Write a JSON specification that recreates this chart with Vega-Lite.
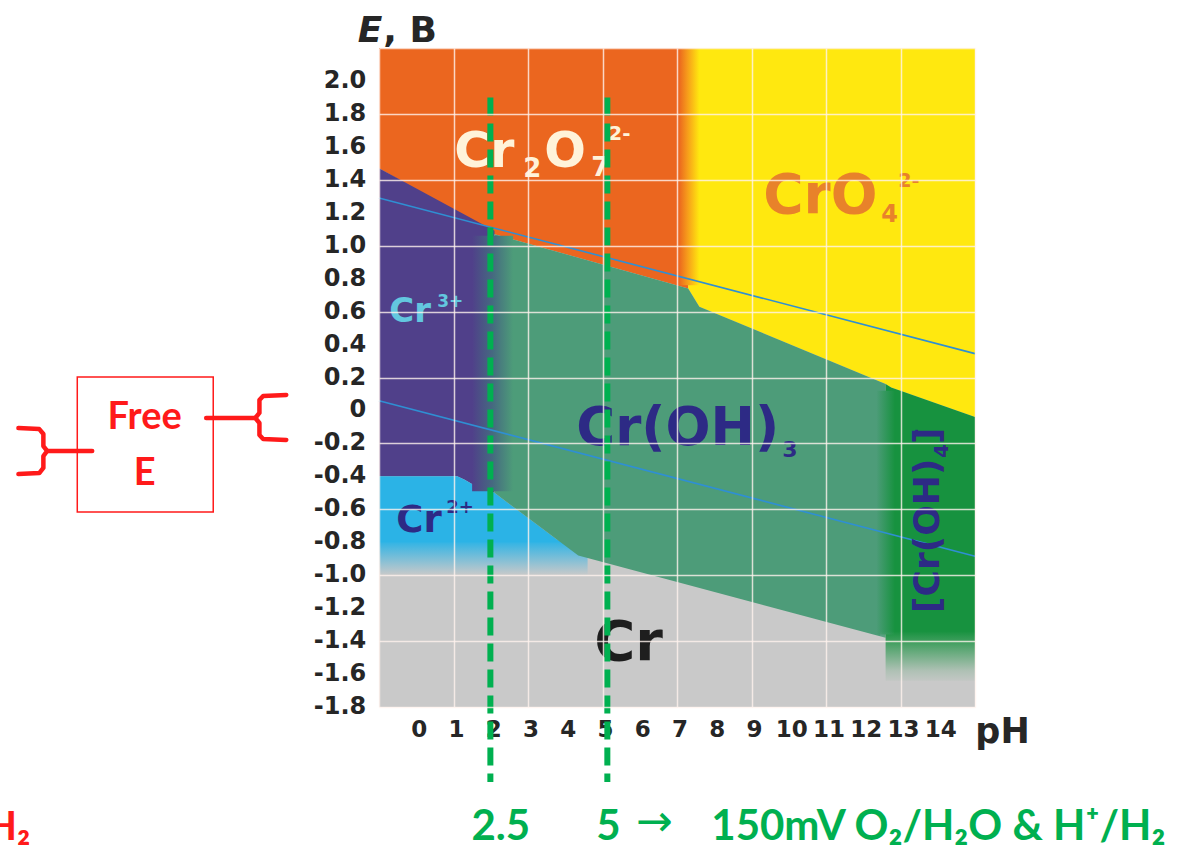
{
  "$schema": "https://vega.github.io/schema/vega-lite/v6.json",
  "width": 596,
  "height": 659,
  "autosize": {"type": "none"},
  "padding": {"left": 379, "top": 48, "right": 212, "bottom": 143},
  "background": "white",
  "config": {"view": {"stroke": null, "fill": "#C9C9C9"}, "axis": {"labelOverlap": false, "labelFlush": false, "labelBound": false}},
  "layer": [
    {
      "data": {"values": [{"pH": -1, "pH2": 4.6, "E": -0.79, "E2": -1.0}]},
      "mark": {"type": "rect", "color": {"gradient": "linear", "x1": 0, "y1": 0, "x2": 0, "y2": 1, "stops": [{"offset": 0, "color": "#2BB3E6"}, {"offset": 1, "color": "#C9C9C9"}]}},
      "encoding": {"x": {"field": "pH", "type": "quantitative"}, "x2": {"field": "pH2"}, "y": {"field": "E", "type": "quantitative"}, "y2": {"field": "E2"}}
    },
    {
      "data": {"values": [
        {"r": "Cr2O7", "o": 1, "pH": -1, "E": 2.2},
        {"r": "Cr2O7", "o": 2, "pH": 7.3, "E": 2.2},
        {"r": "Cr2O7", "o": 3, "pH": 7.3, "E": 0.74},
        {"r": "Cr2O7", "o": 4, "pH": 2.1, "E": 1.07},
        {"r": "Cr2O7", "o": 5, "pH": -1, "E": 1.47},
        {"r": "CrO4", "o": 1, "pH": 7.3, "E": 2.2},
        {"r": "CrO4", "o": 2, "pH": 15, "E": 2.2},
        {"r": "CrO4", "o": 3, "pH": 15, "E": -0.04},
        {"r": "CrO4", "o": 4, "pH": 12.75, "E": 0.14},
        {"r": "CrO4", "o": 5, "pH": 12.6, "E": 0.16},
        {"r": "CrO4", "o": 6, "pH": 7.6, "E": 0.63},
        {"r": "CrO4", "o": 7, "pH": 7.3, "E": 0.74},
        {"r": "Cr3", "o": 1, "pH": -1, "E": 1.47},
        {"r": "Cr3", "o": 2, "pH": 2.1, "E": 1.09},
        {"r": "Cr3", "o": 3, "pH": 2.1, "E": -0.5},
        {"r": "Cr3", "o": 4, "pH": 1.6, "E": -0.46},
        {"r": "Cr3", "o": 5, "pH": 1.3, "E": -0.42},
        {"r": "Cr3", "o": 6, "pH": 1.1, "E": -0.4},
        {"r": "Cr3", "o": 7, "pH": -1, "E": -0.4},
        {"r": "Cr2", "o": 1, "pH": -1, "E": -0.4},
        {"r": "Cr2", "o": 2, "pH": 1.1, "E": -0.4},
        {"r": "Cr2", "o": 3, "pH": 1.3, "E": -0.42},
        {"r": "Cr2", "o": 4, "pH": 1.6, "E": -0.46},
        {"r": "Cr2", "o": 5, "pH": 2.1, "E": -0.5},
        {"r": "Cr2", "o": 6, "pH": 3.876, "E": -0.8},
        {"r": "Cr2", "o": 7, "pH": -1, "E": -0.8},
        {"r": "CrOH3", "o": 1, "pH": 2.1, "E": 1.07},
        {"r": "CrOH3", "o": 2, "pH": 7.3, "E": 0.74},
        {"r": "CrOH3", "o": 3, "pH": 7.6, "E": 0.63},
        {"r": "CrOH3", "o": 4, "pH": 12.6, "E": 0.16},
        {"r": "CrOH3", "o": 5, "pH": 12.6, "E": -1.38},
        {"r": "CrOH3", "o": 6, "pH": 4.35, "E": -0.88},
        {"r": "CrOH3", "o": 7, "pH": 2.1, "E": -0.5},
        {"r": "CrOH4", "o": 1, "pH": 12.6, "E": 0.16},
        {"r": "CrOH4", "o": 2, "pH": 12.75, "E": 0.14},
        {"r": "CrOH4", "o": 3, "pH": 15, "E": -0.04},
        {"r": "CrOH4", "o": 4, "pH": 15, "E": -1.64},
        {"r": "CrOH4", "o": 5, "pH": 12.6, "E": -1.64}
      ]},
      "mark": {"type": "line", "filled": true, "strokeWidth": 0},
      "encoding": {
        "x": {
          "field": "pH", "type": "quantitative",
          "scale": {"domain": [-1, 15], "nice": false, "zero": false},
          "axis": {
            "values": [-1, 0, 1, 2, 3, 4, 5, 6, 7, 8, 9, 10, 11, 12, 13, 14, 15],
            "labels": false,
            "grid": true, "gridColor": "#FFF2EE", "gridOpacity": 0.8, "gridWidth": 1.5,
            "ticks": false, "domain": false,
            "zindex": 1,
            "title": "pH", "titleFont": "DejaVu Sans", "titleFontSize": 35, "titleFontWeight": "bold",
            "titleColor": "#262626", "titleX": 623, "titleY": 35, "titleAlign": "center",
            "titleBaseline": "alphabetic"
          }
        },
        "y": {
          "field": "E", "type": "quantitative",
          "scale": {"domain": [-1.8, 2.2], "nice": false, "zero": false},
          "axis": {
            "values": [-1.8, -1.6, -1.4, -1.2, -1, -0.8, -0.6, -0.4, -0.2, 0, 0.2, 0.4, 0.6, 0.8, 1, 1.2, 1.4, 1.6, 1.8, 2, 2.2],
            "labels": false,
            "grid": true, "gridColor": "#FFF2EE", "gridOpacity": 0.8, "gridWidth": 1.5,
            "ticks": false, "domain": false,
            "zindex": 1, "title": null
          }
        },
        "color": {
          "field": "r", "type": "nominal",
          "scale": {
            "domain": ["Cr2O7", "CrO4", "Cr3", "Cr2", "CrOH3", "CrOH4"],
            "range": ["#EB661F", "#FFE80F", "#50408A", "#2BB3E6", "#4D9C79", "#17923F"]
          },
          "legend": null
        },
        "order": {"field": "o", "type": "quantitative"}
      }
    },
    {
      "data": {"values": [{"pH": 7.05, "pH2": 7.6, "E": 0.76, "E2": 2.2}]},
      "mark": {"type": "rect", "color": {"gradient": "linear", "x1": 0, "y1": 0, "x2": 1, "y2": 0, "stops": [{"offset": 0, "color": "#EB661F"}, {"offset": 0.45, "color": "#F7A01A"}, {"offset": 1, "color": "#FFE80F"}]}},
      "encoding": {"x": {"field": "pH", "type": "quantitative"}, "x2": {"field": "pH2"}, "y": {"field": "E", "type": "quantitative"}, "y2": {"field": "E2"}}
    },
    {
      "data": {"values": [{"pH": 1.5, "pH2": 2.6, "E": -0.49, "E2": 1.06}]},
      "mark": {"type": "rect", "color": {"gradient": "linear", "x1": 0, "y1": 0, "x2": 1, "y2": 0, "stops": [{"offset": 0, "color": "#50408A"}, {"offset": 0.5, "color": "#456A80"}, {"offset": 1, "color": "#4D9C79"}]}},
      "encoding": {"x": {"field": "pH", "type": "quantitative"}, "x2": {"field": "pH2"}, "y": {"field": "E", "type": "quantitative"}, "y2": {"field": "E2"}}
    },
    {
      "data": {"values": [{"pH": 12.35, "pH2": 12.85, "E": -1.36, "E2": 0.12}]},
      "mark": {"type": "rect", "color": {"gradient": "linear", "x1": 0, "y1": 0, "x2": 1, "y2": 0, "stops": [{"offset": 0, "color": "#4D9C79"}, {"offset": 1, "color": "#17923F"}]}},
      "encoding": {"x": {"field": "pH", "type": "quantitative"}, "x2": {"field": "pH2"}, "y": {"field": "E", "type": "quantitative"}, "y2": {"field": "E2"}}
    },
    {
      "data": {"values": [{"pH": 12.45, "pH2": 15, "E": -1.34, "E2": -1.66}]},
      "mark": {"type": "rect", "color": {"gradient": "linear", "x1": 0, "y1": 0, "x2": 0, "y2": 1, "stops": [{"offset": 0, "color": "rgba(201,201,201,0)"}, {"offset": 0.75, "color": "rgba(201,201,201,0.85)"}, {"offset": 1, "color": "#C9C9C9"}]}},
      "encoding": {"x": {"field": "pH", "type": "quantitative"}, "x2": {"field": "pH2"}, "y": {"field": "E", "type": "quantitative"}, "y2": {"field": "E2"}}
    },
    {
      "data": {"values": [
        {"w": "O2", "pH": -1, "E": 1.289},
        {"w": "O2", "pH": 15, "E": 0.345},
        {"w": "H2", "pH": -1, "E": 0.059},
        {"w": "H2", "pH": 15, "E": -0.885}
      ]},
      "mark": {"type": "line", "color": "#2F8FD3", "strokeWidth": 1.6},
      "encoding": {
        "x": {"field": "pH", "type": "quantitative"},
        "y": {"field": "E", "type": "quantitative"},
        "detail": {"field": "w"}
      }
    },
    {
      "data": {"values": [
        {"t": "-1.8", "E": -1.8}, {"t": "-1.6", "E": -1.6}, {"t": "-1.4", "E": -1.4}, {"t": "-1.2", "E": -1.2},
        {"t": "-1.0", "E": -1.0}, {"t": "-0.8", "E": -0.8}, {"t": "-0.6", "E": -0.6}, {"t": "-0.4", "E": -0.4},
        {"t": "-0.2", "E": -0.2}, {"t": "0", "E": 0}, {"t": "0.2", "E": 0.2}, {"t": "0.4", "E": 0.4},
        {"t": "0.6", "E": 0.6}, {"t": "0.8", "E": 0.8}, {"t": "1.0", "E": 1.0}, {"t": "1.2", "E": 1.2},
        {"t": "1.4", "E": 1.4}, {"t": "1.6", "E": 1.6}, {"t": "1.8", "E": 1.8}, {"t": "2.0", "E": 2.0}
      ]},
      "mark": {"type": "text", "font": "DejaVu Sans", "fontWeight": "bold", "fontSize": 24, "color": "#262626", "align": "right", "baseline": "middle"},
      "encoding": {"x": {"datum": -1.342}, "y": {"field": "E", "type": "quantitative"}, "text": {"field": "t"}}
    },
    {
      "data": {"values": [
        {"t": "0", "pH": 0}, {"t": "1", "pH": 1}, {"t": "2", "pH": 2}, {"t": "3", "pH": 3}, {"t": "4", "pH": 4},
        {"t": "5", "pH": 5}, {"t": "6", "pH": 6}, {"t": "7", "pH": 7}, {"t": "8", "pH": 8}, {"t": "9", "pH": 9},
        {"t": "10", "pH": 10}, {"t": "11", "pH": 11}, {"t": "12", "pH": 12}, {"t": "13", "pH": 13}, {"t": "14", "pH": 14}
      ]},
      "mark": {"type": "text", "font": "DejaVu Sans", "fontWeight": "bold", "fontSize": 23, "color": "#262626", "align": "center", "baseline": "middle", "dx": 3},
      "encoding": {"x": {"field": "pH", "type": "quantitative"}, "y": {"datum": -1.94}, "text": {"field": "t"}}
    },
    {
      "data": {"values": [{"t": "Cr", "pH": 1.02, "E": 1.478}, {"t": "O", "pH": 3.436, "E": 1.478}]},
      "mark": {"type": "text", "font": "DejaVu Sans", "fontWeight": "bold", "fontSize": 49, "color": "#FFF3D9", "align": "left", "baseline": "alphabetic"},
      "encoding": {"x": {"field": "pH", "type": "quantitative"}, "y": {"field": "E", "type": "quantitative"}, "text": {"field": "t"}}
    },
    {
      "data": {"values": [{"t": "2", "pH": 2.872, "E": 1.417}, {"t": "7", "pH": 4.698, "E": 1.423}]},
      "mark": {"type": "text", "font": "DejaVu Sans", "fontWeight": "bold", "fontSize": 26, "color": "#FFF3D9", "align": "left", "baseline": "alphabetic"},
      "encoding": {"x": {"field": "pH", "type": "quantitative"}, "y": {"field": "E", "type": "quantitative"}, "text": {"field": "t"}}
    },
    {
      "data": {"values": [{"t": "2-", "pH": 5.154, "E": 1.642}]},
      "mark": {"type": "text", "font": "DejaVu Sans", "fontWeight": "bold", "fontSize": 20, "color": "#FFF3D9", "align": "left", "baseline": "alphabetic"},
      "encoding": {"x": {"field": "pH", "type": "quantitative"}, "y": {"field": "E", "type": "quantitative"}, "text": {"field": "t"}}
    },
    {
      "data": {"values": [{"t": "CrO", "pH": 9.315, "E": 1.198}]},
      "mark": {"type": "text", "font": "DejaVu Sans", "fontWeight": "bold", "fontSize": 55, "color": "#E8822A", "align": "left", "baseline": "alphabetic"},
      "encoding": {"x": {"field": "pH", "type": "quantitative"}, "y": {"field": "E", "type": "quantitative"}, "text": {"field": "t"}}
    },
    {
      "data": {"values": [{"t": "4", "pH": 12.483, "E": 1.144}]},
      "mark": {"type": "text", "font": "DejaVu Sans", "fontWeight": "bold", "fontSize": 24, "color": "#E8822A", "align": "left", "baseline": "alphabetic"},
      "encoding": {"x": {"field": "pH", "type": "quantitative"}, "y": {"field": "E", "type": "quantitative"}, "text": {"field": "t"}}
    },
    {
      "data": {"values": [{"t": "2-", "pH": 12.94, "E": 1.356}]},
      "mark": {"type": "text", "font": "DejaVu Sans", "fontWeight": "bold", "fontSize": 19, "color": "#E8822A", "align": "left", "baseline": "alphabetic"},
      "encoding": {"x": {"field": "pH", "type": "quantitative"}, "y": {"field": "E", "type": "quantitative"}, "text": {"field": "t"}}
    },
    {
      "data": {"values": [{"t": "Cr", "pH": -0.725, "E": 0.537}]},
      "mark": {"type": "text", "font": "DejaVu Sans", "fontWeight": "bold", "fontSize": 34, "color": "#63C7DF", "align": "left", "baseline": "alphabetic"},
      "encoding": {"x": {"field": "pH", "type": "quantitative"}, "y": {"field": "E", "type": "quantitative"}, "text": {"field": "t"}}
    },
    {
      "data": {"values": [{"t": "3+", "pH": 0.564, "E": 0.628}]},
      "mark": {"type": "text", "font": "DejaVu Sans", "fontWeight": "bold", "fontSize": 17, "color": "#63C7DF", "align": "left", "baseline": "alphabetic"},
      "encoding": {"x": {"field": "pH", "type": "quantitative"}, "y": {"field": "E", "type": "quantitative"}, "text": {"field": "t"}}
    },
    {
      "data": {"values": [{"t": "Cr", "pH": -0.537, "E": -0.738}]},
      "mark": {"type": "text", "font": "DejaVu Sans", "fontWeight": "bold", "fontSize": 37, "color": "#2D2A85", "align": "left", "baseline": "alphabetic"},
      "encoding": {"x": {"field": "pH", "type": "quantitative"}, "y": {"field": "E", "type": "quantitative"}, "text": {"field": "t"}}
    },
    {
      "data": {"values": [{"t": "2+", "pH": 0.805, "E": -0.622}]},
      "mark": {"type": "text", "font": "DejaVu Sans", "fontWeight": "bold", "fontSize": 18, "color": "#2D2A85", "align": "left", "baseline": "alphabetic"},
      "encoding": {"x": {"field": "pH", "type": "quantitative"}, "y": {"field": "E", "type": "quantitative"}, "text": {"field": "t"}}
    },
    {
      "data": {"values": [{"t": "Cr(OH)", "pH": 4.295, "E": -0.21}]},
      "mark": {"type": "text", "font": "DejaVu Sans", "fontWeight": "bold", "fontSize": 53, "color": "#2D2A85", "align": "left", "baseline": "alphabetic"},
      "encoding": {"x": {"field": "pH", "type": "quantitative"}, "y": {"field": "E", "type": "quantitative"}, "text": {"field": "t"}}
    },
    {
      "data": {"values": [{"t": "3", "pH": 9.826, "E": -0.283}]},
      "mark": {"type": "text", "font": "DejaVu Sans", "fontWeight": "bold", "fontSize": 22, "color": "#2D2A85", "align": "left", "baseline": "alphabetic"},
      "encoding": {"x": {"field": "pH", "type": "quantitative"}, "y": {"field": "E", "type": "quantitative"}, "text": {"field": "t"}}
    },
    {
      "data": {"values": [{"t": "Cr", "pH": 4.779, "E": -1.515}]},
      "mark": {"type": "text", "font": "DejaVu Sans", "fontWeight": "bold", "fontSize": 56, "color": "#1E1E1E", "align": "left", "baseline": "alphabetic"},
      "encoding": {"x": {"field": "pH", "type": "quantitative"}, "y": {"field": "E", "type": "quantitative"}, "text": {"field": "t"}}
    },
    {
      "data": {"values": [{"t": "[Cr(OH)", "pH": 14.04, "E": -1.229}, {"t": "]", "pH": 14.04, "E": -0.204}]},
      "mark": {"type": "text", "font": "DejaVu Sans", "fontWeight": "bold", "fontSize": 36, "color": "#2D2A85", "align": "left", "baseline": "alphabetic", "angle": 270},
      "encoding": {"x": {"field": "pH", "type": "quantitative"}, "y": {"field": "E", "type": "quantitative"}, "text": {"field": "t"}}
    },
    {
      "data": {"values": [{"t": "4", "pH": 14.282, "E": -0.289}, {"t": "-", "pH": 13.584, "E": -0.161}]},
      "mark": {"type": "text", "font": "DejaVu Sans", "fontWeight": "bold", "fontSize": 20, "color": "#2D2A85", "align": "left", "baseline": "alphabetic", "angle": 270},
      "encoding": {"x": {"field": "pH", "type": "quantitative"}, "y": {"field": "E", "type": "quantitative"}, "text": {"field": "t"}}
    },
    {
      "data": {"values": [{"t": "E", "pH": -0.913, "E": 2.236}]},
      "mark": {"type": "text", "font": "DejaVu Sans", "fontWeight": "bold", "fontStyle": "italic", "fontSize": 36, "color": "#262626", "align": "right", "baseline": "alphabetic"},
      "encoding": {"x": {"field": "pH", "type": "quantitative"}, "y": {"field": "E", "type": "quantitative"}, "text": {"field": "t"}}
    },
    {
      "data": {"values": [{"t": ", B", "pH": -0.886, "E": 2.236}]},
      "mark": {"type": "text", "font": "DejaVu Sans", "fontWeight": "bold", "fontSize": 36, "color": "#262626", "align": "left", "baseline": "alphabetic"},
      "encoding": {"x": {"field": "pH", "type": "quantitative"}, "y": {"field": "E", "type": "quantitative"}, "text": {"field": "t"}}
    },
    {
      "data": {"values": [{"pH": 1.99}, {"pH": 5.13}]},
      "mark": {"type": "rule", "color": "#00B050", "strokeWidth": 6, "strokeDash": [18, 8]},
      "encoding": {
        "x": {"field": "pH", "type": "quantitative"},
        "y": {"datum": 1.9},
        "y2": {"datum": -2.255}
      }
    },
    {
      "data": {"values": [{"pH": -9.1, "pH2": -5.45, "E": 0.203, "E2": -0.616}]},
      "mark": {"type": "rect", "filled": false, "stroke": "#FF1A1A", "strokeWidth": 1.5},
      "encoding": {
        "x": {"field": "pH", "type": "quantitative"},
        "x2": {"field": "pH2"},
        "y": {"field": "E", "type": "quantitative"},
        "y2": {"field": "E2"}
      }
    },
    {
      "data": {"values": [
        {"b": "L", "o": 1, "pH": -10.68, "E": -0.107},
        {"b": "L", "o": 2, "pH": -10.12, "E": -0.113},
        {"b": "L", "o": 3, "pH": -10.01, "E": -0.143},
        {"b": "L", "o": 4, "pH": -10.01, "E": -0.216},
        {"b": "L", "o": 5, "pH": -9.91, "E": -0.246},
        {"b": "L", "o": 6, "pH": -10.01, "E": -0.277},
        {"b": "L", "o": 7, "pH": -10.01, "E": -0.349},
        {"b": "L", "o": 8, "pH": -10.12, "E": -0.38},
        {"b": "L", "o": 9, "pH": -10.68, "E": -0.386},
        {"b": "Lc", "o": 1, "pH": -9.91, "E": -0.246},
        {"b": "Lc", "o": 2, "pH": -8.7, "E": -0.246},
        {"b": "R", "o": 1, "pH": -3.49, "E": 0.094},
        {"b": "R", "o": 2, "pH": -4.11, "E": 0.088},
        {"b": "R", "o": 3, "pH": -4.21, "E": 0.063},
        {"b": "R", "o": 4, "pH": -4.21, "E": -0.015},
        {"b": "R", "o": 5, "pH": -4.32, "E": -0.046},
        {"b": "R", "o": 6, "pH": -4.21, "E": -0.076},
        {"b": "R", "o": 7, "pH": -4.21, "E": -0.149},
        {"b": "R", "o": 8, "pH": -4.11, "E": -0.173},
        {"b": "R", "o": 9, "pH": -3.49, "E": -0.179},
        {"b": "Rc", "o": 1, "pH": -5.64, "E": -0.046},
        {"b": "Rc", "o": 2, "pH": -4.32, "E": -0.046}
      ]},
      "mark": {"type": "line", "color": "#FF1A1A", "strokeWidth": 4.5, "strokeCap": "round", "strokeJoin": "round"},
      "encoding": {
        "x": {"field": "pH", "type": "quantitative"},
        "y": {"field": "E", "type": "quantitative"},
        "detail": {"field": "b"},
        "order": {"field": "o", "type": "quantitative"}
      }
    },
    {
      "data": {"values": [{"t": "Free", "pH": -7.29, "E": -0.046}, {"t": "E", "pH": -7.29, "E": -0.386}]},
      "mark": {"type": "text", "font": "Lato", "fontWeight": "bold", "fontSize": 38, "color": "#FF1A1A", "align": "center", "baseline": "middle"},
      "encoding": {"x": {"field": "pH", "type": "quantitative"}, "y": {"field": "E", "type": "quantitative"}, "text": {"field": "t"}}
    },
    {
      "data": {"values": [{"t": "H₂", "pH": -10.36, "E": -2.607}]},
      "mark": {"type": "text", "font": "Lato", "fontWeight": "bold", "fontSize": 40, "color": "#FF1A1A", "align": "right", "baseline": "alphabetic"},
      "encoding": {"x": {"field": "pH", "type": "quantitative"}, "y": {"field": "E", "type": "quantitative"}, "text": {"field": "t"}}
    },
    {
      "data": {"values": [
        {"t": "2.5", "pH": 1.48, "E": -2.607},
        {"t": "5", "pH": 4.83, "E": -2.607},
        {"t": "150mV O₂/H₂O & H⁺/H₂", "pH": 7.92, "E": -2.607}
      ]},
      "mark": {"type": "text", "font": "Lato", "fontWeight": "bold", "fontSize": 42, "color": "#00B050", "align": "left", "baseline": "alphabetic"},
      "encoding": {"x": {"field": "pH", "type": "quantitative"}, "y": {"field": "E", "type": "quantitative"}, "text": {"field": "t"}}
    },
    {
      "data": {"values": [{"t": "→", "pH": 6.39, "E": -2.58}]},
      "mark": {"type": "text", "font": "DejaVu Sans", "fontSize": 44, "color": "#00B050", "align": "center", "baseline": "alphabetic"},
      "encoding": {"x": {"field": "pH", "type": "quantitative"}, "y": {"field": "E", "type": "quantitative"}, "text": {"field": "t"}}
    }
  ]
}
